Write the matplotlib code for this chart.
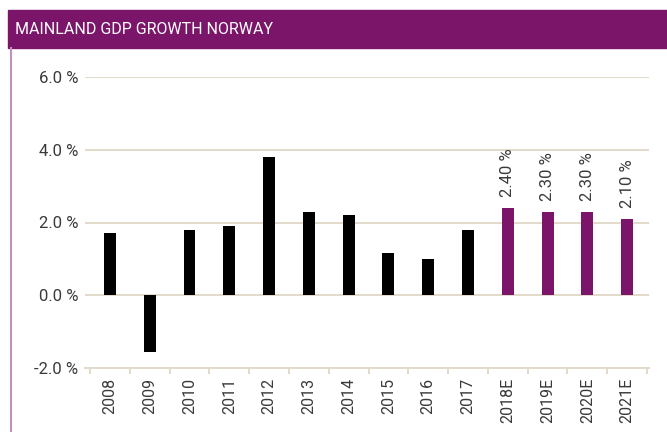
import matplotlib
matplotlib.use("Agg")
import matplotlib.pyplot as plt
from matplotlib.patches import Rectangle
from matplotlib.lines import Line2D

categories = ["2008", "2009", "2010", "2011", "2012", "2013", "2014", "2015",
              "2016", "2017", "2018E", "2019E", "2020E", "2021E"]
values = [1.7, -1.55, 1.8, 1.9, 3.8, 2.3, 2.2, 1.15, 1.0, 1.8, 2.4, 2.3, 2.3, 2.1]
labels = ["", "", "", "", "", "", "", "", "", "", "2.40 %", "2.30 %", "2.30 %", "2.10 %"]
yticks = [-2.0, 0.0, 2.0, 4.0, 6.0]
ytick_labels = ["-2.0 %", "0.0 %", "2.0 %", "4.0 %", "6.0 %"]
title = "MAINLAND GDP GROWTH NORWAY"

PURPLE = "#7B1569"
GRID = "#E2DACB"
TXT = "#3A3A3A"
FONT = ["Roboto", "DejaVu Sans"]
plt.rcParams["font.family"] = FONT

W, H = 667, 432
fig = plt.figure(figsize=(W / 100, H / 100), dpi=100)

# title band
fig.patches.append(Rectangle((8 / W, 1 - 48 / H), 1 - 8 / W, 38 / H,
                             transform=fig.transFigure, color=PURPLE, zorder=0))
fig.text(15 / W, 1 - 29 / H, title, color="white", fontsize=11.5,
         va="center", ha="left")
fig.lines.append(Line2D([11 / W, 11 / W], [0, 1 - 48 / H], transform=fig.transFigure,
                        color="#C48FBD", lw=1.5))

left, right = 85 / W, 649 / W
bottom, top = 1 - 368 / H, 1 - 77 / H
ax = fig.add_axes([left, bottom, right - left, top - bottom])

x = list(range(len(categories)))
colors = ["black" if not c.endswith("E") else PURPLE for c in categories]
ax.bar(x, values, width=0.3, color=colors, zorder=3)

for xi, v, lab in zip(x, values, labels):
    if lab:
        ax.text(xi, v + 0.3, lab, rotation=90, ha="center", va="bottom",
                fontsize=12, color=TXT)

ax.set_ylim(-2, 6)
ax.set_xlim(-0.626, 13.55)
ax.set_yticks(yticks)
ax.set_yticklabels(ytick_labels, fontsize=12, color=TXT)
ax.tick_params(axis="y", length=0, pad=5)
ax.yaxis.grid(True, color=GRID, lw=1.4, zorder=0)
ax.set_axisbelow(True)

ax.set_xticks(x)
ax.set_xticklabels(categories, rotation=90, fontsize=11.5, color=TXT)
ax.set_xticks([i - 0.5 for i in range(len(categories) + 1)], minor=True)
ax.tick_params(axis="x", which="major", length=0, pad=7)
ax.tick_params(axis="x", which="minor", length=4, color=GRID, width=1.4)

for s in ["top", "right", "left"]:
    ax.spines[s].set_visible(False)
ax.spines["bottom"].set_color(GRID)
ax.spines["bottom"].set_linewidth(1.4)

fig.savefig("out.png", dpi=100)
